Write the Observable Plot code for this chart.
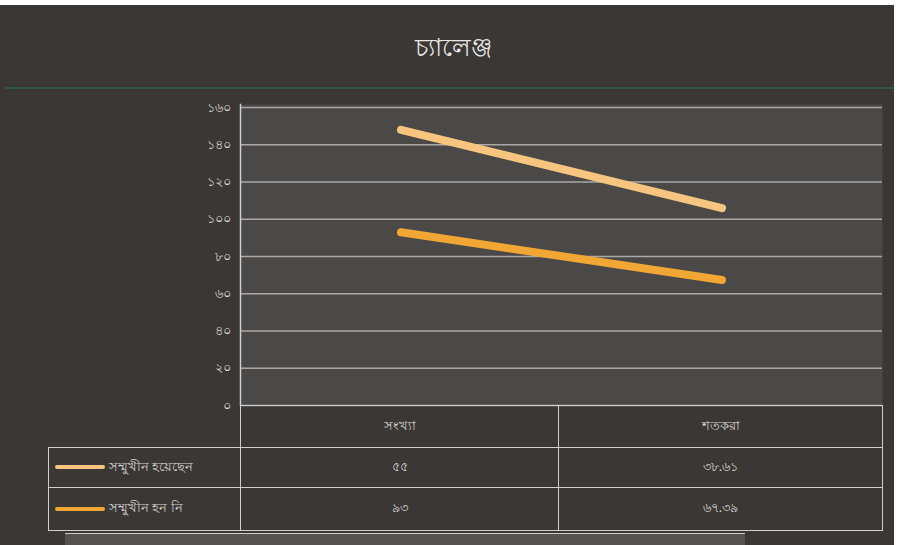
<!DOCTYPE html>
<html>
<head>
<meta charset="utf-8">
<script src="https://cdn.jsdelivr.net/npm/d3@7"></script>
<script src="https://cdn.jsdelivr.net/npm/@observablehq/plot@0.6"></script>
<style>
  html, body { margin: 0; padding: 0; background: #ffffff; }
  #wrap { position: relative; width: 902px; height: 545px; overflow: hidden; background: #fff; }
  #card { position: absolute; left: 0; top: 5px; width: 894px; height: 540px; background: #3a3735; }
  #title { position: absolute; left: 0; top: 28px; width: 906px; text-align: center; color: #e8e6e4;
           font-family: "Noto Sans", "DejaVu Sans", sans-serif; font-size: 25px; }
  #sep { position: absolute; left: 5px; top: 87px; width: 889px; height: 2px; background: #2f5a42; }
  #chart { position: absolute; left: 0; top: 0; }
  #tbl { position: absolute; left: 48px; top: 405px; width: 834px; table-layout: fixed; border-collapse: collapse;
         font-family: "Noto Sans", "DejaVu Sans", sans-serif; font-size: 12.5px; color: #d6d4d2; }
  #tbl td { border: 1.5px solid #d0d0d0; text-align: center; padding: 0; }
  #tbl td.blank { border-left: none; border-top: none; border-bottom: 1.5px solid #d0d0d0; }
  #tbl td.name { text-align: left; white-space: nowrap; overflow: hidden; }
  .sw { display: inline-block; width: 50px; height: 4px; vertical-align: middle; margin: 0 4px 0 6px; border-radius: 2px; }
  #strip { position: absolute; left: 65px; top: 533px; width: 680px; height: 12px; background: #555352; border-top: 1px solid #cfcfcf; }
</style>
</head>
<body>
<div id="wrap">
  <div id="card"></div>
  <div id="title"></div>
  <div id="sep"></div>
  <div id="chart"></div>
  <div id="strip"></div>
</div>
<script>
// ---- data ----
const title = "চ্যালেঞ্জ";
const categories = ["সংখ্যা", "শতকরা"];
const seriesNames = ["সম্মুখীন হয়েছেন", "সম্মুখীন হন নি"];
const seriesFaced = [55, 38.61];
const seriesNotFaced = [93, 67.39];
const yTicks = [0, 20, 40, 60, 80, 100, 120, 140, 160];
const colors = ["#f7c57e", "#f2a735"];

const bnDigits = "০১২৩৪৫৬৭৮৯";
const bn = v => String(v).replace(/[0-9]/g, d => bnDigits[+d]);

// long-format rows: bottom series first for stacking
const rows = [];
categories.forEach((c, i) => rows.push({cat: c, series: seriesNames[1], value: seriesNotFaced[i]}));
categories.forEach((c, i) => rows.push({cat: c, series: seriesNames[0], value: seriesFaced[i]}));

document.getElementById("title").textContent = title;

const font = '"Noto Sans", "DejaVu Sans", sans-serif';
const chart = Plot.plot({
  width: 902,
  height: 545,
  marginLeft: 240,
  marginRight: 20,
  marginTop: 107,
  marginBottom: 140,
  style: {background: "transparent", fontFamily: font, fontSize: "12.5px", color: "#d8d6d4", overflow: "visible"},
  x: {type: "band", domain: categories, padding: 0, axis: null},
  y: {domain: [0, 160], ticks: yTicks, tickFormat: bn, tickSize: 0, tickPadding: 10, label: null},
  color: {domain: seriesNames, range: colors},
  marks: [
    Plot.frame({fill: "#4a4947", stroke: null, insetTop: -3}),
    Plot.gridY(yTicks, {stroke: "#a9a9a9", strokeOpacity: 1, strokeWidth: 1.5}),
    Plot.frame({anchor: "left", stroke: "#cfcfcf", strokeWidth: 1.5, insetTop: -3}),
    Plot.lineY(rows, Plot.stackY2({x: "cat", y: "value", z: "series", stroke: "series",
      strokeWidth: 8, strokeLinecap: "round"}))
  ]
});
document.getElementById("chart").appendChild(chart);

// data table under the chart
const tbl = document.createElement("table");
tbl.id = "tbl";
const colW = [192, 318, 324];
const rowH = [42, 40, 43];
let html = `<colgroup>${colW.map(w => `<col style="width:${w}px">`).join("")}</colgroup>`;
html += `<tr style="height:${rowH[0]}px"><td class="blank"></td>`;
categories.forEach(c => html += `<td>${c}</td>`);
html += "</tr>";
[[seriesNames[0], seriesFaced, colors[0]], [seriesNames[1], seriesNotFaced, colors[1]]].forEach(([name, vals, col], r) => {
  html += `<tr style="height:${rowH[r + 1]}px"><td class="name"><span class="sw" style="background:${col}"></span>${name}</td>`;
  vals.forEach(v => html += `<td>${bn(v)}</td>`);
  html += "</tr>";
});
tbl.innerHTML = html;
document.getElementById("wrap").appendChild(tbl);
</script>
</body>
</html>
